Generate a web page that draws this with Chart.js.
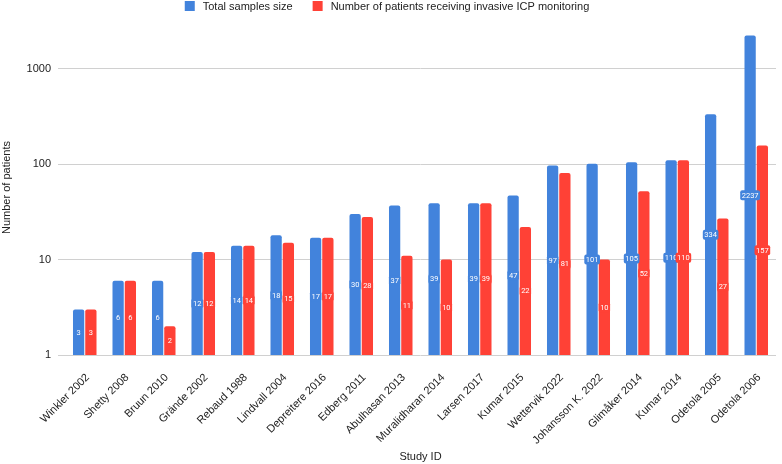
<!DOCTYPE html>
<html lang="en">
<head>
    <meta charset="UTF-8">
    <title>Number of patients by study</title>
    <script src="https://cdn.jsdelivr.net/npm/chart.js"></script>
    <style>
        html, body { margin: 0; padding: 0; background: #fff; }
        #wrap { width: 782px; height: 464px; }
    </style>
</head>
<body>
    <div id="wrap">
        <canvas id="studyChart"></canvas>
    </div>

    <script>
        const studies = ['Winkler 2002', 'Shetty 2008', 'Bruun 2010', 'Grände 2002', 'Rebaud 1988',
            'Lindvall 2004', 'Depreitere 2016', 'Edberg 2011', 'Abulhasan 2013', 'Muralidharan 2014',
            'Larsen 2017', 'Kumar 2015', 'Wettervik 2022', 'Johansson K. 2022', 'Glimåker 2014',
            'Kumar 2014', 'Odetola 2005', 'Odetola 2006'];
        const totalSamples = [3, 6, 6, 12, 14, 18, 17, 30, 37, 39, 39, 47, 97, 101, 105, 110, 334, 2237];
        const icpPatients = [3, 6, 2, 12, 14, 15, 17, 28, 11, 10, 39, 22, 81, 10, 52, 110, 27, 157];
        const yTicks = [1, 10, 100, 1000];

        const blue = '#4283dc';
        const red = '#ff4136';
        const FONT = '"Liberation Sans", Arial, sans-serif';

        // value labels drawn in the middle of each bar
        const barLabels = {
            id: 'barLabels',
            afterDatasetsDraw(chart) {
                const ctx = chart.ctx;
                ctx.save();
                ctx.font = '7.5px Roboto';
                ctx.textAlign = 'center';
                ctx.textBaseline = 'middle';
                chart.data.datasets.forEach((ds, i) => {
                    chart.getDatasetMeta(i).data.forEach((bar, j) => {
                        const txt = String(ds.data[j]);
                        const y = (bar.y + bar.base) / 2;
                        const w = ctx.measureText(txt).width + 3;
                        ctx.fillStyle = ds.backgroundColor;
                        ctx.beginPath();
                        ctx.roundRect(bar.x - w / 2, y - 5, w, 10, 2);
                        ctx.fill();
                        ctx.fillStyle = '#fff';
                        ctx.fillText(txt, bar.x, y + 0.5);
                    });
                });
                ctx.restore();
            }
        };

        // simple legend row at the top, square + label for each dataset
        const topLegend = {
            id: 'topLegend',
            afterDraw(chart) {
                const ctx = chart.ctx;
                const sets = chart.data.datasets;
                ctx.save();
                ctx.font = '11px ' + FONT;
                ctx.textBaseline = 'middle';
                ctx.textAlign = 'left';
                const box = 10, gap = 8, between = 20;
                const widths = sets.map(ds => box + gap + ctx.measureText(ds.label).width);
                const total = widths.reduce((a, b) => a + b, 0) + between * (sets.length - 1);
                let x = 387 - total / 2;
                sets.forEach((ds, i) => {
                    ctx.fillStyle = ds.backgroundColor;
                    ctx.fillRect(x, 1, box, box);
                    ctx.fillStyle = '#222';
                    ctx.fillText(ds.label, x + box + gap, 6.5);
                    x += widths[i] + between;
                });
                ctx.restore();
            }
        };

        Chart.defaults.font.family = FONT;
        Chart.defaults.color = '#222';

        new Chart(document.getElementById('studyChart'), {
            type: 'bar',
            data: {
                labels: studies,
                datasets: [{
                    label: 'Total samples size',
                    data: totalSamples,
                    backgroundColor: blue,
                    borderRadius: 2,
                    borderSkipped: 'bottom'
                }, {
                    label: 'Number of patients receiving invasive ICP monitoring',
                    data: icpPatients,
                    backgroundColor: red,
                    borderRadius: 2,
                    borderSkipped: 'bottom'
                }]
            },
            options: {
                responsive: true,
                maintainAspectRatio: false,
                animation: false,
                layout: { padding: { top: 20, right: 6, left: 0, bottom: 0 } },
                plugins: {
                    legend: { display: false },
                    tooltip: { enabled: false }
                },
                datasets: {
                    bar: { barPercentage: 0.92, categoryPercentage: 0.62 }
                },
                scales: {
                    x: {
                        afterFit(scale) { scale.height = 109; },
                        grid: { display: false },
                        border: { display: false },
                        ticks: { maxRotation: 45, minRotation: 45, autoSkip: false, font: { size: 11 }, color: '#222', padding: 8, labelOffset: 3 },
                        title: { display: true, text: 'Study ID', font: { size: 11 }, color: '#222', padding: { top: 0, bottom: 0 } }
                    },
                    y: {
                        type: 'logarithmic',
                        min: 1,
                        max: 3250,
                        afterBuildTicks(scale) {
                            scale.ticks = yTicks.map(v => ({ value: v }));
                        },
                        afterFit(scale) { scale.width = 65; },
                        grid: { color: '#d0d0d0', lineWidth: 1, drawTicks: true, tickLength: 7 },
                        border: { display: false },
                        ticks: { padding: 7, font: { size: 11 }, color: '#222', callback: v => String(v) },
                        title: { display: true, text: 'Number of patients', font: { size: 11 }, color: '#222', padding: 0 }
                    }
                }
            },
            plugins: [barLabels, topLegend]
        });
    </script>
</body>
</html>
